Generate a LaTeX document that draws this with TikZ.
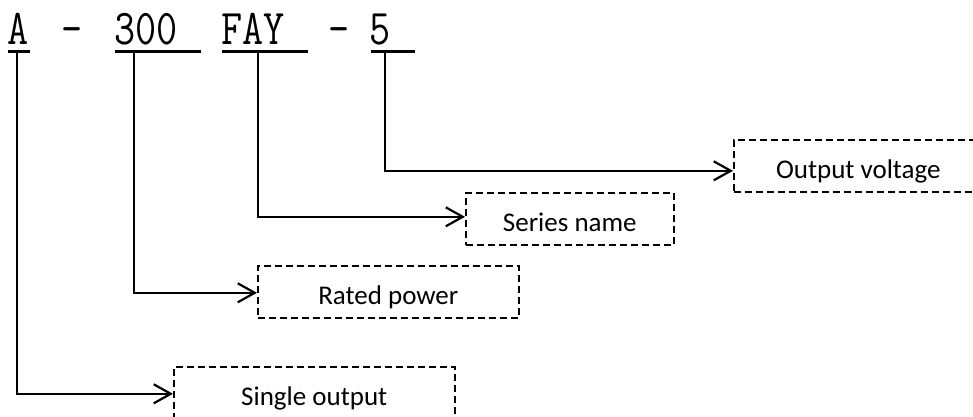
\documentclass[tikz,border=0pt]{standalone}
\usepackage{fontspec}
\setmainfont{Carlito}
\usetikzlibrary{arrows.meta}
\begin{document}
\begin{tikzpicture}[x=1pt,y=-1pt,
  lbl/.style={draw, line width=1.6pt, dash pattern=on 7pt off 4pt, anchor=north west,
    minimum height=52pt, inner sep=0pt, text height=25pt, text depth=0pt,
    font=\fontsize{27}{27}\selectfont},
  code/.style={inner sep=0pt, anchor=base west, font=\ttfamily\fontsize{41}{41}\selectfont},
  uline/.style={line width=3pt},
  conn/.style={line width=2.2pt, -{Straight Barb[length=17pt,width=19pt,line width=2.2pt]}}]
\useasboundingbox (0,0) rectangle (973,416);
\clip (0,0) rectangle (973,416);
% code text
\node[code] (nA) at (7,44) {\scalebox{1}[1.22]{A}};
\node[code] (nd1) at (61.75,44) {\scalebox{1}[1.22]{-}};
\node[code] (n300) at (114,44) {\scalebox{1}[1.22]{300}};
\node[code] (nFAY) at (221,44) {\scalebox{1}[1.22]{FAY}};
\node[code] (nd2) at (328,44) {\scalebox{1}[1.22]{-}};
\node[code] (n5) at (369,44) {\scalebox{1}[1.22]{5}};
% underlines
\draw[uline] (8,51) -- (30,51);
\draw[uline] (115,51) -- (201,51);
\draw[uline] (222,51) -- (308,51);
\draw[uline] (371,51) -- (415,51);
\coordinate (cA) at (17.3,51);
\coordinate (c300) at (134.3,51);
\coordinate (cFAY) at (257.7,51);
\coordinate (c5) at (385,51);
% boxes
\node[lbl, minimum width=249pt] (volt) at (733,139) {Output voltage};
\node[lbl, minimum width=208pt] (series) at (465,192) {Series name};
\node[lbl, minimum width=261pt] (rated) at (257,265) {Rated power};
\node[lbl, minimum width=281pt] (single) at (173,366) {Single output};
% connectors
\draw[conn] (c5) |- ([yshift=-5pt]volt.west);
\draw[conn] (cFAY) |- ([yshift=2pt]series.west);
\draw[conn] (c300) |- ([yshift=-1pt]rated.west);
\draw[conn] (cA) |- ([yshift=-1pt]single.west);
\end{tikzpicture}
\end{document}
